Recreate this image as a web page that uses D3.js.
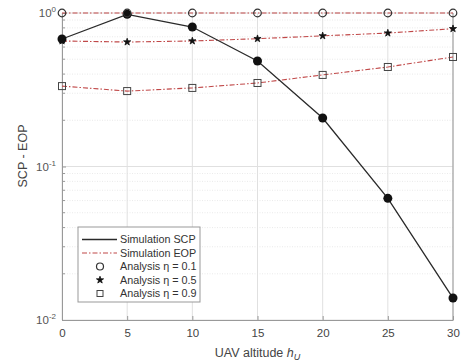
<!DOCTYPE html>
<html>
<head>
<meta charset="utf-8">
<script src="https://cdn.jsdelivr.net/npm/d3@7"></script>
<style>
body { margin: 0; background: #fff; }
text { font-family: "Liberation Sans", Arial, sans-serif; }
</style>
</head>
<body>
<div id="chart"></div>
<script>
const altitude = [0, 5, 10, 15, 20, 25, 30];
const scp = [0.677, 0.98, 0.81, 0.487, 0.207, 0.062, 0.0139];
const eop01 = [1, 1, 1, 1, 1, 1, 1];
const eop05 = [0.657, 0.647, 0.657, 0.68, 0.71, 0.74, 0.79];
const eop09 = [0.334, 0.31, 0.325, 0.35, 0.395, 0.445, 0.517];
const xTicks = [0, 5, 10, 15, 20, 25, 30];
const yTicks = [1e-2, 1e-1, 1];
const legendLabels = ["Simulation SCP", "Simulation EOP", "Analysis \u03B7 = 0.1", "Analysis \u03B7 = 0.5", "Analysis \u03B7 = 0.9"];

const width = 470, height = 364;
const margin = { top: 13, right: 17, bottom: 44, left: 62 };
const w = width - margin.left - margin.right;
const h = height - margin.top - margin.bottom;

const svg = d3.select("#chart").append("svg")
    .attr("width", width)
    .attr("height", height);

const g = svg.append("g")
    .attr("transform", "translate(" + margin.left + "," + margin.top + ")");

const x = d3.scaleLinear().domain([0, 30]).range([0, w]);
const y = d3.scaleLog().domain([1e-2, 1]).range([h, 0]);

// minor grid
const minor = [];
[0.01, 0.1].forEach(function(p) {
    for (let k = 2; k <= 9; k++) minor.push(p * k);
});

g.selectAll(".minor").data(minor).enter().append("line")
    .attr("x1", 0).attr("x2", w)
    .attr("y1", d => y(d)).attr("y2", d => y(d))
    .attr("stroke", "#e4e4e4").attr("stroke-width", 0.8)
    .attr("stroke-dasharray", "1,1.5");

g.selectAll(".ymajor").data(yTicks).enter().append("line")
    .attr("x1", 0).attr("x2", w)
    .attr("y1", d => y(d)).attr("y2", d => y(d))
    .attr("stroke", "#e0e0e0").attr("stroke-width", 1);

g.selectAll(".xmajor").data(xTicks).enter().append("line")
    .attr("x1", d => x(d)).attr("x2", d => x(d))
    .attr("y1", 0).attr("y2", h)
    .attr("stroke", "#e0e0e0").attr("stroke-width", 1);

// axes
const xAxis = g.append("g")
    .attr("transform", "translate(0," + h + ")")
    .call(d3.axisBottom(x).tickValues(xTicks).tickSizeInner(-4).tickSizeOuter(0).tickPadding(9));
const yAxis = g.append("g")
    .call(d3.axisLeft(y).tickValues(yTicks).tickSizeInner(-4).tickSizeOuter(0).tickFormat(""));
// minor y ticks
g.selectAll(".mtick").data(minor).enter().append("line")
    .attr("x1", 0).attr("x2", 3)
    .attr("y1", d => y(d)).attr("y2", d => y(d))
    .attr("stroke", "#999");
g.append("line").attr("x1", w).attr("x2", w).attr("y1", 0).attr("y2", h).attr("stroke", "#999");

[xAxis, yAxis].forEach(function(a) {
    a.select(".domain").attr("stroke", "#999");
    a.selectAll(".tick line").attr("stroke", "#999");
    a.selectAll("text").attr("fill", "#444").style("font-size", "11.5px");
});

// y tick labels with superscript
yTicks.forEach(function(t) {
    const e = Math.round(Math.log10(t));
    const lab = g.append("text")
        .attr("x", -6)
        .attr("y", y(t) + 4)
        .attr("text-anchor", "end")
        .attr("fill", "#555")
        .style("font-size", "11.5px");
    lab.append("tspan").text("10");
    lab.append("tspan").attr("dy", -5).style("font-size", "8px").text(e);
});

// lines
const line = d3.line().x((d, i) => x(altitude[i])).y(d => y(d));

[eop01, eop05, eop09].forEach(function(s) {
    g.append("path").datum(s)
        .attr("d", line)
        .attr("fill", "none")
        .attr("stroke", "#c04848")
        .attr("stroke-width", 1.1)
        .attr("stroke-dasharray", "5,2,1.5,2");
});

g.append("path").datum(scp)
    .attr("d", line)
    .attr("fill", "none")
    .attr("stroke", "#2a2a2a")
    .attr("stroke-width", 1.3);

// markers
g.selectAll(".scp").data(scp).enter().append("circle")
    .attr("cx", (d, i) => x(altitude[i])).attr("cy", d => y(d))
    .attr("r", 4.5).attr("fill", "#111");

g.selectAll(".m01").data(eop01).enter().append("circle")
    .attr("cx", (d, i) => x(altitude[i])).attr("cy", d => y(d))
    .attr("r", 3.8).attr("fill", "none").attr("stroke", "#333").attr("stroke-width", 1.2);

const star = d3.symbol().type(d3.symbolStar).size(16);
g.selectAll(".m05").data(eop05).enter().append("path")
    .attr("transform", (d, i) => "translate(" + x(altitude[i]) + "," + y(d) + ")")
    .attr("d", star).attr("fill", "#111").attr("stroke", "#111").attr("stroke-width", 0.8);

g.selectAll(".m09").data(eop09).enter().append("rect")
    .attr("x", (d, i) => x(altitude[i]) - 3.5).attr("y", d => y(d) - 3.5)
    .attr("width", 7).attr("height", 7)
    .attr("fill", "none").attr("stroke", "#444").attr("stroke-width", 1);

// axis labels
svg.append("text")
    .attr("transform", "translate(27," + (margin.top + 143) + ") rotate(-90)")
    .attr("text-anchor", "middle")
    .attr("fill", "#444")
    .style("font-size", "12.5px")
    .text("SCP - EOP");

const xl = svg.append("text")
    .attr("x", margin.left + w / 2)
    .attr("y", 357)
    .attr("text-anchor", "middle")
    .attr("fill", "#444")
    .style("font-size", "12.5px");
xl.append("tspan").text("UAV altitude ");
xl.append("tspan").style("font-style", "italic").text("h");
xl.append("tspan").attr("dy", 3).style("font-size", "9px").style("font-style", "italic").text("U");

// legend
const lg = svg.append("g").attr("transform", "translate(78,227)");
lg.append("rect").attr("width", 122).attr("height", 75)
    .attr("fill", "#fff").attr("stroke", "#999");

legendLabels.forEach(function(t, i) {
    const yy = 12.5 + i * 13.5;
    if (i === 0) {
        lg.append("line").attr("x1", 4).attr("x2", 39).attr("y1", yy).attr("y2", yy)
            .attr("stroke", "#2a2a2a").attr("stroke-width", 1.3);
    } else if (i === 1) {
        lg.append("line").attr("x1", 4).attr("x2", 39).attr("y1", yy).attr("y2", yy)
            .attr("stroke", "#c04848").attr("stroke-width", 1.1).attr("stroke-dasharray", "5,2,1.5,2");
    } else if (i === 2) {
        lg.append("circle").attr("cx", 22).attr("cy", yy).attr("r", 3.5)
            .attr("fill", "none").attr("stroke", "#333").attr("stroke-width", 1.2);
    } else if (i === 3) {
        lg.append("path").attr("transform", "translate(22," + yy + ")").attr("d", star)
            .attr("fill", "#111").attr("stroke", "#111").attr("stroke-width", 0.8);
    } else {
        lg.append("rect").attr("x", 19).attr("y", yy - 3).attr("width", 6).attr("height", 6)
            .attr("fill", "none").attr("stroke", "#444");
    }
    lg.append("text").attr("x", 42).attr("y", yy + 3.5)
        .attr("fill", "#333").style("font-size", "10.8px").text(t);
});
</script>
</body>
</html>
